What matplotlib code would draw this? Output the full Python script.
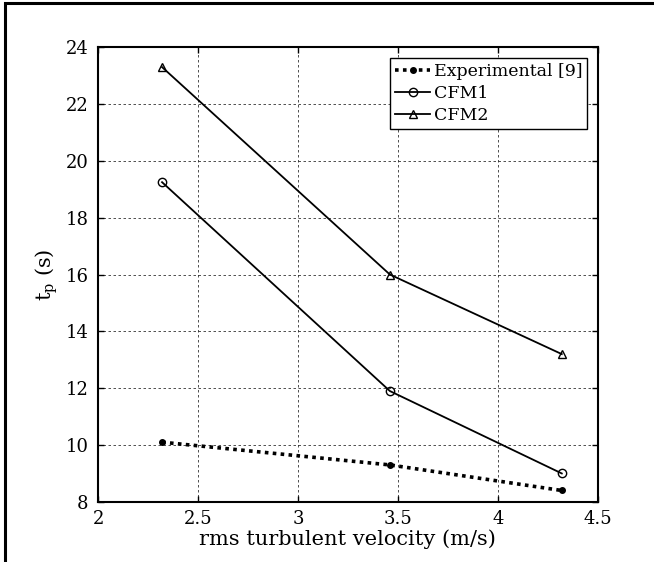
import matplotlib
matplotlib.use("Agg")
import matplotlib.pyplot as plt
import matplotlib.patches as mpatches

plt.rcParams['font.family'] = ['DejaVu Serif']
plt.rcParams['mathtext.fontset'] = 'dejavuserif'

velocity = [2.32, 3.46, 4.32]
experimental = [10.1, 9.3, 8.4]
cfm1 = [19.25, 11.9, 9.0]
cfm2 = [23.3, 16.0, 13.2]
xticks = [2, 2.5, 3, 3.5, 4, 4.5]
xticklabels = ['2', '2.5', '3', '3.5', '4', '4.5']
yticks = [8, 10, 12, 14, 16, 18, 20, 22, 24]

fig = plt.figure(figsize=(6.54, 5.62), dpi=100)
ax = fig.add_axes([0.150, 0.107, 0.764, 0.809])

ax.plot(velocity, experimental, linestyle=(0, (1, 1.2)), linewidth=2.6, color='k',
        marker='o', markersize=4, label='Experimental [9]')
ax.plot(velocity, cfm1, '-', color='k', linewidth=1.3, marker='o', markersize=6,
        markerfacecolor='none', markeredgewidth=1.0, label='CFM1')
ax.plot(velocity, cfm2, '-', color='k', linewidth=1.3, marker='^', markersize=6,
        markerfacecolor='none', markeredgewidth=1.0, label='CFM2')

ax.set_xlim(2, 4.5)
ax.set_ylim(8, 24)
ax.set_xticks(xticks)
ax.set_xticklabels(xticklabels)
ax.set_yticks(yticks)
ax.tick_params(direction='in', top=True, right=True, labelsize=13, length=4, width=1)
ax.tick_params(axis='y', pad=7)
ax.tick_params(axis='x', pad=6)
ax.grid(True, color='k', linestyle=(0, (3, 3)), linewidth=0.6, alpha=0.8)
for s in ax.spines.values():
    s.set_linewidth(1.5)

ax.set_xlabel('rms turbulent velocity (m/s)', fontsize=15, labelpad=1)
ax.set_ylabel(r'$\mathrm{t_p}$ (s)', fontsize=15, labelpad=4)

leg = ax.legend(loc='upper right', fontsize=12.5, frameon=True, fancybox=False,
                edgecolor='k', framealpha=1, handlelength=2.0, handletextpad=0.2,
                borderpad=0.3, labelspacing=0.3, borderaxespad=0.6)
leg.get_frame().set_linewidth(1.0)

rect = mpatches.Rectangle((5 / 654, -0.1), 1.2, 1 - 3 / 562 + 0.1, transform=fig.transFigure,
                          fill=False, edgecolor='k', linewidth=2.2, clip_on=False)
fig.patches.append(rect)

fig.savefig('out.png', dpi=100)
